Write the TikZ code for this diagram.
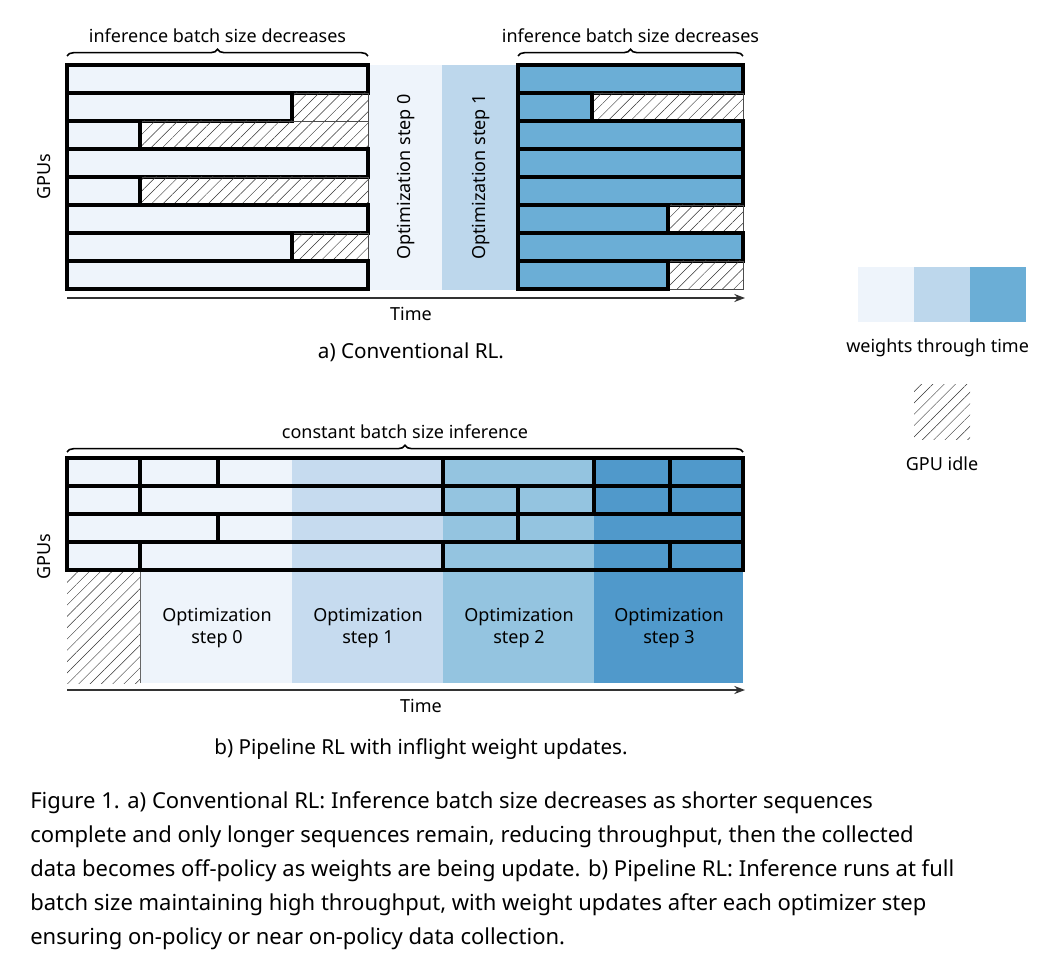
\documentclass[tikz,border=0pt]{standalone}
\usepackage{fontspec}
\setmainfont{Noto Sans}
\usetikzlibrary{patterns.meta,decorations.pathreplacing,arrows.meta}
\definecolor{c0}{HTML}{EEF4FB}
\definecolor{c1}{HTML}{C6DBEF}
\definecolor{c2}{HTML}{94C4E0}
\definecolor{c3}{HTML}{5099CB}
\definecolor{ca}{HTML}{6BAED6}
\definecolor{cb}{HTML}{BDD7EC}
\begin{document}
\begin{tikzpicture}[x=0.75pt,y=-0.75pt,
  bar/.style={draw=black,line width=2.6pt},
  idle/.style={pattern={Lines[distance=6pt,angle=45,line width=0.35pt]},pattern color=black!80,draw=black!70,line width=0.4pt},
  lbl/.style={font=\fontsize{13.5}{16}\selectfont},
  figcap/.style={font=\fontsize{16.5}{20}\selectfont,anchor=west,inner sep=0},
  brace/.style={decorate,decoration={brace,amplitude=5pt},line width=1.2pt},
  arr/.style={line width=1.5pt,-{Stealth[length=8pt]},black!80}]
\useasboundingbox (0,0) rectangle (1046,955);
\clip (0,0) rectangle (1046,955);
% ---------- a) ----------
\fill[c0] (368,65) rectangle (442,290);
\fill[cb] (442,65) rectangle (516,290);
\node[lbl,rotate=90] (o0) at (406,177) {Optimization step 0};
\node[lbl,rotate=90] (o1) at (481,177) {Optimization step 1};
\foreach \r/\e in {0/368,1/292,2/140,3/368,4/140,5/368,6/292,7/368}{
  \pgfmathsetmacro\ya{65+28*\r}\pgfmathsetmacro\yb{93+28*\r}
  \ifdim\e pt<368pt \draw[idle] (\e,\ya) rectangle (368,\yb);\fi
  \draw[bar,fill=c0] (67,\ya) rectangle (\e,\yb);
}
\foreach \r/\e in {0/743,1/592,2/743,3/743,4/743,5/668,6/743,7/668}{
  \pgfmathsetmacro\ya{65+28*\r}\pgfmathsetmacro\yb{93+28*\r}
  \ifdim\e pt<743pt \draw[idle] (\e,\ya) rectangle (743,\yb);\fi
  \draw[bar,fill=ca] (518,\ya) rectangle (\e,\yb);
}
\coordinate (b1a) at (67,56); \coordinate (b1b) at (368,56);
\coordinate (b2a) at (518,56); \coordinate (b2b) at (743,56);
\draw[brace] (b1a) -- node[lbl,above=6pt] (t1) {inference batch size decreases} (b1b);
\draw[brace] (b2a) -- node[lbl,above=6pt] (t2) {inference batch size decreases} (b2b);
\node[lbl,rotate=90] (g1) at (44,177) {GPUs};
\coordinate (ta0) at (67,298); \coordinate (ta1) at (745,298);
\draw[arr] (ta0) -- (ta1);
\node[lbl] (time1) at (411,314) {Time};
\node[font=\fontsize{15.5}{18}\selectfont] (capa) at (411,352) {a) Conventional RL.};
% ---------- b) ----------
\fill[c0] (140,458) rectangle (292,683);
\fill[c1] (292,458) rectangle (443,683);
\fill[c2] (443,458) rectangle (594,683);
\fill[c3] (594,458) rectangle (743,683);
\fill[c0] (67,458) rectangle (140,570);
\draw[idle,draw=none] (67,570) rectangle (140,683);
\draw[black!60,line width=0.4pt] (140,570) -- (140,683);
\foreach \r in {0,1,2,3}{
  \pgfmathsetmacro\ya{458+28*\r}\pgfmathsetmacro\yb{486+28*\r}
  \draw[bar] (67,\ya) rectangle (743,\yb);
}
\foreach \r/\xs in {0/{140,218,443,594,670},1/{140,443,518,594,670},2/{218,518},3/{140,443,670}}{
  \pgfmathsetmacro\ya{458+28*\r}\pgfmathsetmacro\yb{486+28*\r}
  \foreach \x in \xs {\draw[line width=2.6pt] (\x,\ya) -- (\x,\yb);}
}
\node[lbl,align=center] (s0) at (217,628) {Optimization\\step 0};
\node[lbl,align=center] (s1) at (368,628) {Optimization\\step 1};
\node[lbl,align=center] (s2) at (519,628) {Optimization\\step 2};
\node[lbl,align=center] (s3) at (669,628) {Optimization\\step 3};
\coordinate (b3a) at (67,452); \coordinate (b3b) at (743,452);
\draw[brace] (b3a) -- node[lbl,above=6pt] (t3) {constant batch size inference} (b3b);
\node[lbl,rotate=90] (g2) at (44,557) {GPUs};
\coordinate (tb0) at (67,690); \coordinate (tb1) at (745,690);
\draw[arr] (tb0) -- (tb1);
\node[lbl] (time2) at (421,706) {Time};
\node[font=\fontsize{15.5}{18}\selectfont] (capb) at (421,749) {b) Pipeline RL with inflight weight updates.};
% ---------- legend ----------
\fill[c0] (858,267) rectangle (914,322);
\fill[cb] (914,267) rectangle (970,322);
\fill[ca] (970,267) rectangle (1026,322);
\node[lbl,anchor=west,inner sep=0] (wt) at (846,348) {weights through time};
\draw[idle,draw=none] (914,385) rectangle (970,440);
\node[lbl] (gi) at (942,464) {GPU idle};
% ---------- caption ----------
\node[figcap] (l1) at (30,803) {\textbf{Figure 1.} a) Conventional RL: Inference batch size decreases as shorter sequences};
\node[figcap] (l2) at (30,837) {complete and only longer sequences remain, reducing throughput, then the collected};
\node[figcap] (l3) at (30,871) {data becomes off-policy as weights are being update. b) Pipeline RL: Inference runs at full};
\node[figcap] (l4) at (30,905) {batch size maintaining high throughput, with weight updates after each optimizer step};
\node[figcap] (l5) at (30,939) {ensuring on-policy or near on-policy data collection.};
\end{tikzpicture}
\end{document}
